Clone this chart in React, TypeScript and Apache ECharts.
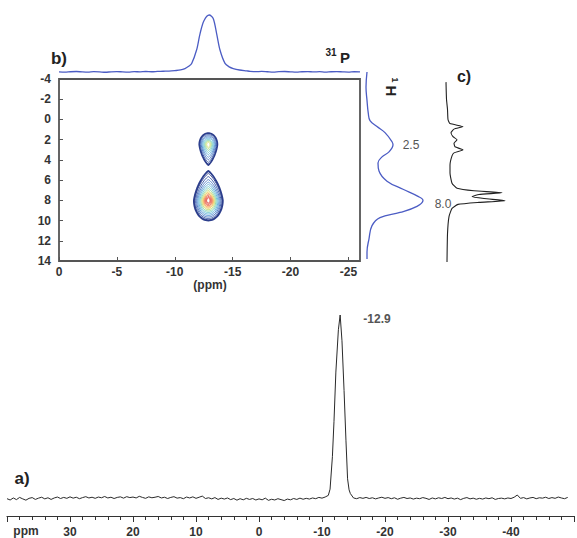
import React, { useEffect, useRef } from "react";
import * as echarts from "echarts";

// ---------- a) 1D 31P spectrum ----------
const baseStartA = 40; // ppm of first baseline point
const baseStepA = 0.5; // ppm spacing of baseline points
const baselineA = [
  0.2, -0.5, 0.6, -0.3, 0.9, 0.1, -0.6, 0.4, 0.8, -0.2,
  0.5, 1.0, 0.1, 0.7, -0.2, 0.6, 1.1, 0.3, 0.9, 0.4,
  1.2, 0.5, 1.0, 0.2, 0.8, 1.3, 0.6, 1.0, 0.4, 1.1,
  0.7, 1.4, 0.6, 1.0, 0.3, 0.9, 1.2, 0.5, 1.3, 0.8,
  1.1, 0.6, 1.5, 0.9, 0.4, 1.2, 0.7, 1.0, 1.4, 0.6,
  1.0, 0.3, 0.9, 1.3, 0.5, 0.8, 0.2, 1.1, 0.6, 1.2,
  0.4, 1.0, 1.6, 0.3, 0.7, 0.1, 0.8, -0.2, 0.5, 0.0,
  0.6, -0.3, 0.3, -0.6, 0.2, -0.4, 0.4, -0.2, 0.3, -0.5,
  0.1, -0.4, 0.5, -0.7, -0.1, -0.5, 0.2, -0.3, -0.8, 0.0,
  -0.4, 0.3, -0.2, 0.5, -0.1, 0.4, 0.0, 0.6, 0.2, 0.9,
  0.5, 1.1, 0, 0, 0, 0, 0, 0, 0, 0,
  0.6, 0.2, 0.8, 0.4, 0.9, 0.3, 0.7, 0.1, 0.6, 1.0,
  0.4, 0.8, 0.2, 0.7, -0.1, 0.5, 0.9, 0.3, 0.6, 0.0,
  0.5, 0.2, 0.8, 0.4, -0.2, 0.6, 0.1, 0.7, 0.3, 0.9,
  0.2, 0.6, 0.0, 0.5, -0.3, 0.4, 0.8, 0.1, 0.5, -0.1,
  0.4, 0.0, 0.6, 0.2, 0.7, -0.2, 0.3, 0.5, 0.1, 0.6,
  0.3, 1.0, 2.2, 0.4, 0.8, 0.1, 0.6, 0.9, 0.2, 0.7,
  0.5, 1.0, 0.3, 0.8, 0.4, 1.1, 0.6, 0.2, 0.9,
];
const peakPpmA = [-11.0, -11.28, -11.65, -11.9, -12.2, -12.6, -12.88, -13.17, -13.5, -13.8, -14.06, -14.3, -14.5];
const peakIntA = [2, 5.4, 23, 42, 69, 92, 100, 86, 59, 32, 11, 5, 3];
const peakLabelA = "-12.9";

// ---------- b) top 31P projection ----------
const topPpm = [
  0, -0.5, -1, -1.5, -2, -2.5, -3, -3.5, -4, -4.5, -5, -5.5, -6, -6.5, -7, -7.5, -8, -8.5, -9, -9.5, -10, -10.5,
  -10.88, -11.2, -11.46, -11.89, -12.18, -12.52, -12.98, -13.32, -13.62, -13.9, -14.34, -14.7, -15.05, -15.6, -16.2,
  -16.5, -17, -17.5, -18, -18.5, -19, -19.5, -20, -20.5, -21, -21.5, -22, -22.5, -23, -23.5, -24, -24.5, -25, -25.5, -26,
];
const topInt = [
  0.3, -0.4, 0.4, 0.8, 0.1, -0.3, 0.5, 0.2, -0.5, 0.3, 0.7, 0.1, -0.2, 0.5, 0.3, 0.8, 0.4, 0.9, 1.3, 1.6, 2.4, 3.5,
  6, 10, 15, 39, 67, 90, 100, 94, 67, 39, 15, 9, 6, 3.5, 2,
  1.2, 0.6, 1.0, 0.4, -0.2, 0.5, 0.8, 0.2, -0.3, 0.4, 0.7, 0.1, 0.5, -0.2, 0.4, 0.7, 0.2, -0.2, 0.4, 0.2,
];

// ---------- b) right 1H projection ----------
const rightPpm = [-4.7, -3.2, -1.9, -0.6, 0.1, 0.7, 1.3, 2.2, 2.5, 3.2, 3.7, 4.3, 5.1, 6.1, 6.9, 7.6, 8.0, 8.6, 9.2, 9.7, 10.5, 11.8, 13.1, 13.8];
const rightInt = [0, -1, 0, 1.3, 3, 10, 18, 25, 26, 22, 15, 11, 12, 20, 36, 51, 56, 50, 33, 13, 5, 2, 0, 0];
const rightLabels = ["2.5", "8.0"];

// ---------- c) solution 1H spectrum ----------
const cPpm = [-3.7, -2.0, -1.0, 0.0, 0.4, 0.7, 0.95, 1.3, 1.7, 2.0, 2.35, 2.7, 3.0, 3.3, 3.6, 4.5, 5.3, 6.3, 6.8, 7.05, 7.24, 7.42, 7.62, 7.82, 8.03, 8.2, 8.4, 8.8, 9.6, 11.3, 14.1];
const cInt = [0, 0.5, 1.5, 2, 4, 17, 8, 5, 7, 11, 8, 9, 17, 8, 6, 4, 4, 6, 11, 28, 56, 33, 26, 38, 59, 33, 12, 6, 3, 1.5, 1];

// ---------- b) 2D contours ----------
const contourCenterX = [-12.9, -12.9];
const contourCenterY = [2.5, 8.0];
const upperHalfWidth = [0.78, 0.7, 0.62, 0.55, 0.47, 0.38, 0.3, 0.22, 0.14];
const upperUp = [1.15, 1.0, 0.88, 0.76, 0.64, 0.52, 0.42, 0.32, 0.22];
const upperDown = [2.0, 1.75, 1.5, 1.25, 1.0, 0.78, 0.58, 0.4, 0.26];
const upperColors = ["#2c3e8c", "#3355a5", "#3f6fc0", "#4f8fd0", "#5aaed8", "#62c4c8", "#7dd0a0", "#b8dc70", "#d8e080"];
const lowerHalfWidth = [1.25, 1.19, 1.1, 1.01, 0.92, 0.83, 0.74, 0.65, 0.56, 0.47, 0.39, 0.31, 0.23, 0.15];
const lowerUp = [2.9, 2.65, 2.35, 2.05, 1.8, 1.58, 1.36, 1.16, 0.98, 0.82, 0.67, 0.53, 0.4, 0.27];
const lowerDown = [2.0, 1.92, 1.8, 1.65, 1.5, 1.35, 1.2, 1.06, 0.92, 0.78, 0.65, 0.52, 0.4, 0.27];
const lowerColors = ["#2c3e8c", "#2c3e8c", "#3355a5", "#3f6fc0", "#4f8fd0", "#5aaed8", "#62c4c8", "#86d09a", "#c0d860", "#f0c040", "#f08a30", "#e8502a", "#e03020", "#d82818"];

const xTicksB = [0, -5, -10, -15, -20, -25];

const FONT = "Liberation Sans, Arial, sans-serif";
const BLUE = "#4b5cc4";

export default function App() {
  const ref = useRef<HTMLDivElement>(null);
  useEffect(() => {
    if (!ref.current) return;
    const chart = echarts.init(ref.current, undefined, { renderer: "svg" });

    const dataA: number[][] = [];
    baselineA.forEach((v, i) => {
      const p = baseStartA - i * baseStepA;
      if (p <= -11.0 + 1e-9 && p >= -14.5 - 1e-9) return;
      dataA.push([p, v]);
    });
    peakPpmA.forEach((p, i) => dataA.push([p, peakIntA[i]]));
    dataA.sort((a, b) => b[0] - a[0]);

    const topData = topPpm.map((p, i) => [p, topInt[i]]);
    const rightData = rightPpm.map((p, i) => [rightInt[i], p]);
    const cData = cPpm.map((p, i) => [cInt[i], p]);

    const contourColors = [upperColors, lowerColors];
    const contourData: number[][] = [];
    upperHalfWidth.forEach((hw, i) =>
      contourData.push([contourCenterX[0], contourCenterY[0], hw, upperUp[i], upperDown[i], 1, 0, i])
    );
    lowerHalfWidth.forEach((hw, i) =>
      contourData.push([contourCenterX[1], contourCenterY[1], hw, lowerUp[i], lowerDown[i], 0, 1, i])
    );

    const boldLabel = { fontFamily: FONT, fontWeight: "bold" as const, fontSize: 12, color: "#333" };

    chart.setOption({
      animation: false,
      grid: [
        { left: 7, top: 315, width: 573, height: 202, show: false },
        { left: 59, top: 79, width: 301, height: 182, show: true, borderColor: "#555", borderWidth: 1.8, backgroundColor: "transparent" },
        { left: 59, top: 15, width: 301, height: 60, show: false },
        { left: 360, top: 69, width: 70, height: 192, show: false },
        { left: 430, top: 69, width: 90, height: 192, show: false },
      ],
      xAxis: [
        {
          type: "value", gridIndex: 0, min: -50, max: 40, interval: 10, inverse: true, position: "bottom",
          axisLine: { show: true, onZero: false, lineStyle: { color: "#333", width: 1.2 } },
          axisTick: { show: true, length: 6, lineStyle: { color: "#333" } },
          minorTick: { show: true, splitNumber: 5, length: 4, lineStyle: { color: "#333" } },
          axisLabel: { ...boldLabel, margin: 10, formatter: (v: number) => (v === 40 || v === -50 ? "" : String(v)) },
          splitLine: { show: false },
        },
        {
          type: "value", gridIndex: 1, min: -26, max: 0, inverse: true, position: "bottom",
          axisLine: { show: false, onZero: false },
          axisTick: { show: true, inside: true, length: 4, customValues: xTicksB, lineStyle: { color: "#555" } },
          axisLabel: { ...boldLabel, margin: 5, customValues: xTicksB, formatter: (v: number) => String(v) },
          splitLine: { show: false },
        },
        { type: "value", gridIndex: 2, min: -26, max: 0, inverse: true, show: false },
        { type: "value", gridIndex: 3, min: -7, max: 63, show: false },
        { type: "value", gridIndex: 4, min: -16, max: 74, show: false },
      ],
      yAxis: [
        { type: "value", gridIndex: 0, min: -9.2, max: 100, show: false },
        {
          type: "value", gridIndex: 1, min: -4, max: 14, interval: 2, inverse: true,
          axisLine: { show: false, onZero: false },
          axisTick: { show: true, inside: true, length: 4, lineStyle: { color: "#555" } },
          axisLabel: { ...boldLabel, margin: 8 },
          splitLine: { show: false },
        },
        { type: "value", gridIndex: 2, min: -5.3, max: 100, show: false },
        { type: "value", gridIndex: 3, min: -5, max: 14, inverse: true, show: false },
        { type: "value", gridIndex: 4, min: -5, max: 14, inverse: true, show: false },
      ],
      series: [
        {
          type: "line", xAxisIndex: 0, yAxisIndex: 0, data: dataA, showSymbol: false, clip: false,
          lineStyle: { color: "#2a2a2a", width: 1 },
        },
        {
          type: "custom", xAxisIndex: 1, yAxisIndex: 1, data: contourData,
          encode: { x: 0, y: 1 },
          renderItem: (params: any, api: any) => {
            const cx = api.value(0), cy = api.value(1), hw = api.value(2), up = api.value(3), down = api.value(4);
            const tipDown = api.value(5) === 1;
            const group = api.value(6), lvl = api.value(7);
            const pts: number[][] = [];
            const N = 72;
            for (let k = 0; k < N; k++) {
              const t = (2 * Math.PI * k) / N;
              const s = Math.sin(t), c = Math.cos(t);
              const dy = s > 0 ? down * s : up * s;
              const pinch = tipDown ? s > 0 : s < 0;
              const f = pinch ? Math.pow(1 - Math.abs(s), 0.3) : 1;
              pts.push(api.coord([cx + hw * c * f, cy + dy]));
            }
            return {
              type: "polygon",
              shape: { points: pts },
              style: { fill: "none", stroke: contourColors[group][lvl], lineWidth: lvl === 0 ? 1.8 : 0.9 },
            };
          },
        },
        {
          type: "line", xAxisIndex: 2, yAxisIndex: 2, data: topData, showSymbol: false, smooth: 0.3, clip: false,
          lineStyle: { color: BLUE, width: 1.3 },
        },
        {
          type: "line", xAxisIndex: 3, yAxisIndex: 3, data: rightData, showSymbol: false, smooth: 0.4, clip: false,
          lineStyle: { color: BLUE, width: 1.3 },
        },
        {
          type: "line", xAxisIndex: 4, yAxisIndex: 4, data: cData, showSymbol: false, smooth: 0.15, clip: false,
          lineStyle: { color: "#222", width: 1.1 },
        },
      ],
      graphic: [
        { type: "text", x: 22, y: 478, style: { text: "a)", font: `bold 17px ${FONT}`, fill: "#222", align: "center", verticalAlign: "middle" } },
        { type: "text", x: 59, y: 58, style: { text: "b)", font: `bold 17px ${FONT}`, fill: "#222", align: "center", verticalAlign: "middle" } },
        { type: "text", x: 464, y: 76, style: { text: "c)", font: `bold 16px ${FONT}`, fill: "#222", align: "center", verticalAlign: "middle" } },
        { type: "text", x: 331, y: 52, style: { text: "31", font: `bold 10px ${FONT}`, fill: "#222", align: "center", verticalAlign: "middle" } },
        { type: "text", x: 345, y: 57, style: { text: "P", font: `bold 15px ${FONT}`, fill: "#222", align: "center", verticalAlign: "middle" } },
        { type: "text", x: 395, y: 80, rotation: -Math.PI / 2, style: { text: "1", font: `bold 9px ${FONT}`, fill: "#222", align: "center", verticalAlign: "middle" } },
        { type: "text", x: 391, y: 91, rotation: -Math.PI / 2, style: { text: "H", font: `bold 15px ${FONT}`, fill: "#222", align: "center", verticalAlign: "middle" } },
        { type: "text", x: 411, y: 145, style: { text: rightLabels[0], font: `12px ${FONT}`, fill: "#555", align: "center", verticalAlign: "middle" } },
        { type: "text", x: 443, y: 204, style: { text: rightLabels[1], font: `12px ${FONT}`, fill: "#555", align: "center", verticalAlign: "middle" } },
        { type: "text", x: 377, y: 319, style: { text: peakLabelA, font: `bold 12px ${FONT}`, fill: "#555", align: "center", verticalAlign: "middle" } },
        { type: "text", x: 26, y: 531, style: { text: "ppm", font: `bold 12px ${FONT}`, fill: "#333", align: "center", verticalAlign: "middle" } },
        { type: "text", x: 210, y: 285, style: { text: "(ppm)", font: `bold 12px ${FONT}`, fill: "#333", align: "center", verticalAlign: "middle" } },
      ],
    });
    return () => chart.dispose();
  }, []);
  return <div ref={ref} style={{ position: "absolute", left: 0, top: 0, width: 577, height: 538, background: "#fff" }} />;
}
